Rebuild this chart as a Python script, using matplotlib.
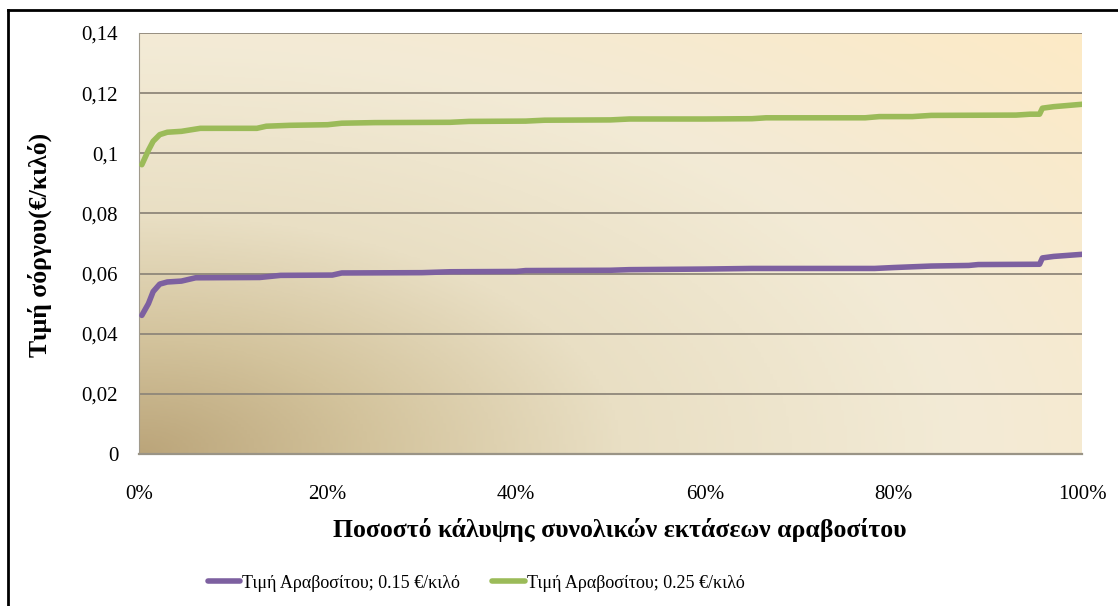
import numpy as np
import matplotlib.pyplot as plt
from matplotlib.colors import LinearSegmentedColormap
from matplotlib.lines import Line2D
from matplotlib.ticker import FuncFormatter

# coverage share (%) and sorghum price (EUR/kg)
x_maize_015 = [0.3, 1.0, 1.5, 2.2, 3.0, 4.5, 6.0, 12.8, 15.0, 20.5, 21.5, 30.0, 33.0,
               40.0, 41.0, 50.0, 52.0, 60.0, 65.0, 78.0, 80.0, 84.0, 88.0, 89.0,
               95.5, 95.8, 97.0, 100.0]
price_maize_015 = [0.0461, 0.0500, 0.0540, 0.0565, 0.0572, 0.0575, 0.0586, 0.0587,
                   0.0594, 0.0595, 0.0602, 0.0603, 0.0606, 0.0607, 0.0610, 0.0611,
                   0.0613, 0.0615, 0.0617, 0.0617, 0.0620, 0.0625, 0.0627, 0.0630,
                   0.0631, 0.0652, 0.0657, 0.0664]

x_maize_025 = [0.3, 1.0, 1.5, 2.2, 3.0, 4.5, 6.5, 12.5, 13.5, 16.0, 20.0, 21.5, 25.0,
               33.0, 35.0, 41.0, 43.0, 50.0, 52.0, 60.0, 65.0, 66.5, 77.0, 78.5,
               82.0, 84.0, 93.0, 94.5, 95.5, 95.8, 97.0, 100.0]
price_maize_025 = [0.0962, 0.1010, 0.1040, 0.1062, 0.1070, 0.1073, 0.1083, 0.1083,
                   0.1090, 0.1093, 0.1095, 0.1100, 0.1102, 0.1103, 0.1106, 0.1107,
                   0.1110, 0.1111, 0.1114, 0.1114, 0.1115, 0.1118, 0.1118, 0.1122,
                   0.1122, 0.1126, 0.1127, 0.1130, 0.1130, 0.1150, 0.1155, 0.1163]

labels = ["Τιμή Αραβοσίτου; 0.15 €/κιλό", "Τιμή Αραβοσίτου; 0.25 €/κιλό"]
y_ticks = [0, 0.02, 0.04, 0.06, 0.08, 0.1, 0.12, 0.14]
x_ticks = [0, 20, 40, 60, 80, 100]

plt.rcParams['font.family'] = ['Liberation Serif', 'DejaVu Serif']

fig = plt.figure(figsize=(11.18, 6.06), dpi=100)
ax = fig.add_axes([139 / 1118, 1 - 454 / 606, 943 / 1118, 421 / 606])

# parchment style gradient: dark only near the lower left corner
cmap = LinearSegmentedColormap.from_list(
    "parchment", [(0.0, "#bba57a"), (0.18, "#d3c39c"), (0.38, "#e9dfc4"),
                  (0.65, "#f3ebd6"), (1.0, "#fdeac6")])
gx, gy = np.meshgrid(np.linspace(0, 1, 300), np.linspace(0, 1, 300))
grad = np.sqrt((gx * 1.0) ** 2 + (gy * 0.9) ** 2) / np.sqrt(1.81)
ax.imshow(grad, cmap=cmap, extent=[0, 1, 0, 1], transform=ax.transAxes,
          origin="lower", aspect="auto", zorder=0, interpolation="bilinear")

for v in y_ticks[1:]:
    ax.axhline(v, color="#8f877a", lw=1.3, zorder=1)

ax.plot(x_maize_015, price_maize_015, color="#7d60a0", lw=4, label=labels[0],
        solid_capstyle="round", zorder=3)
ax.plot(x_maize_025, price_maize_025, color="#9bbb59", lw=4, label=labels[1],
        solid_capstyle="round", zorder=3)

ax.set_xlim(0, 100)
ax.set_ylim(0, 0.14)
ax.set_xticks(x_ticks)
ax.set_yticks(y_ticks)
ax.xaxis.set_major_formatter(FuncFormatter(lambda v, p: f"{v:.0f}%"))
ax.yaxis.set_major_formatter(FuncFormatter(
    lambda v, p: "0" if v == 0 else f"{v:.2f}".rstrip("0").replace(".", ",")))
ax.tick_params(length=0, labelsize=15)
ax.tick_params(axis="y", pad=15)
ax.tick_params(axis="x", pad=22)

for side in ["top", "right"]:
    ax.spines[side].set_visible(False)
ax.spines["left"].set_color("#a09a8c")
ax.spines["bottom"].set_color("#9a9486")
ax.spines["bottom"].set_linewidth(1.6)

fig.text(620 / 1118, 1 - 530 / 606, "Ποσοστό κάλυψης συνολικών εκτάσεων αραβοσίτου",
         ha="center", va="center", fontsize=18.5, fontweight="bold")
fig.text(40 / 1118, 1 - 245 / 606, "Τιμή σόργου(€/κιλό)", rotation=90,
         ha="center", va="center", fontsize=18.5, fontweight="bold")

fig.legend(loc="center", bbox_to_anchor=(476 / 1118, 1 - 583 / 606), ncol=2,
           frameon=False, fontsize=13, handlelength=1.8, handletextpad=0.1,
           columnspacing=1.8)

# outer frame (cut at right and bottom)
fig.add_artist(Line2D([8 / 1118, 8 / 1118], [0, 1 - 10 / 606], color="black", lw=2,
                      transform=fig.transFigure))
fig.add_artist(Line2D([8 / 1118, 1], [1 - 10 / 606, 1 - 10 / 606], color="black", lw=2,
                      transform=fig.transFigure))

fig.savefig("out.png", dpi=100)
